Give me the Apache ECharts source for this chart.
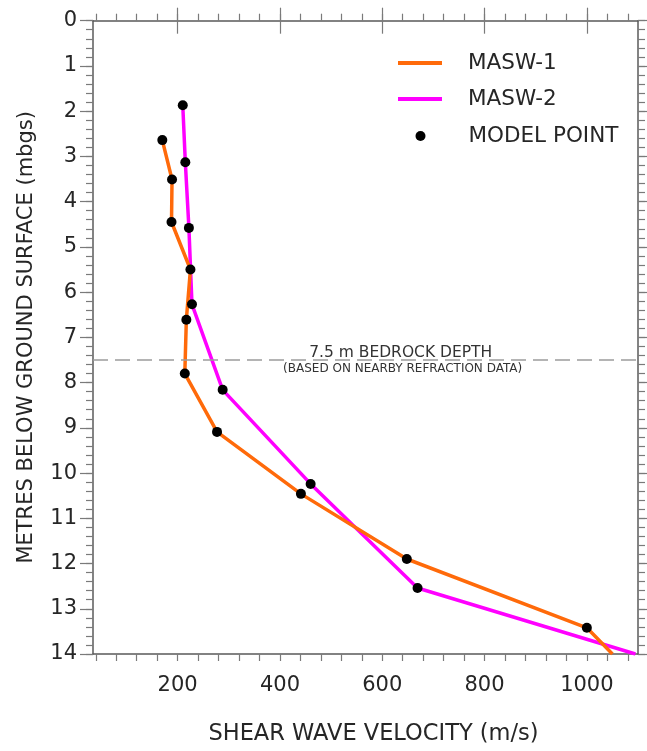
<!DOCTYPE html>
<html>
<head>
<meta charset="utf-8">
<script src="https://cdn.jsdelivr.net/npm/echarts@6/dist/echarts.min.js"></script>
<style>
  html, body { margin: 0; padding: 0; background: #ffffff; }
  #chart { width: 647px; height: 751px; }
</style>
</head>
<body>
<div id="chart"></div>
<script>
// Shear wave velocity profiles (m/s) against depth (metres below ground surface)
const masw1Velocity = [170, 189, 188, 225, 217, 214, 277, 441, 648, 1000, 1050];
const masw1Depth    = [2.64, 3.51, 4.45, 5.50, 6.61, 7.80, 9.09, 10.46, 11.90, 13.42, 14.0];
const masw2Velocity = [210, 215, 222, 228, 288, 460, 669, 1095];
const masw2Depth    = [1.87, 3.13, 4.58, 6.27, 8.16, 10.24, 12.54, 14.0];

// Velocity and depth axis labels
const velocityLabels = [200, 400, 600, 800, 1000];
const depthLabels = [0, 1, 2, 3, 4, 5, 6, 7, 8, 9, 10, 11, 12, 13, 14];

const bedrockDepth = 7.5;
const noteTitle = '7.5 m BEDROCK DEPTH';
const noteSubtitle = '(BASED ON NEARBY REFRACTION DATA)';
const noteVelocity = 636;

const X_MIN = 34.5, X_MAX = 1100, Y_MIN = 0, Y_MAX = 14;
const FONT = '"DejaVu Sans", sans-serif';
const TEXT = '#262626';
const AXIS = '#5a5a5a';
const TICK = '#7a7a7a';

// minor ticks: every 40 m/s and every 0.2 m
const velocityMinor = [];
for (let v = 40; v <= 1080; v += 40) velocityMinor.push(v);
const depthMinor = [];
for (let k = 0; k <= 70; k++) depthMinor.push(Math.round(k * 2) / 10);

const pairs = (xs, ys) => xs.map((x, i) => [x, ys[i]]);
// the profile's last vertex is where it leaves the plot; the others are model points
const modelPoints = pairs(masw1Velocity, masw1Depth).slice(0, -1)
  .concat(pairs(masw2Velocity, masw2Depth).slice(0, -1));

function xAxisDef(position, ticks, len, extra) {
  return Object.assign({
    type: 'value', position, min: X_MIN, max: X_MAX,
    axisLine: { show: true, onZero: false, lineStyle: { color: AXIS, width: 1.5 } },
    axisTick: { show: true, inside: false, customValues: ticks, length: len, lineStyle: { color: TICK, width: 1.2 } },
    axisLabel: { show: false },
    splitLine: { show: false }
  }, extra || {});
}
function yAxisDef(position, ticks, len, extra) {
  return Object.assign({
    type: 'value', position, min: Y_MIN, max: Y_MAX, inverse: true,
    axisLine: { show: true, onZero: false, lineStyle: { color: AXIS, width: 1.5 } },
    axisTick: { show: true, inside: false, customValues: ticks, length: len, lineStyle: { color: TICK, width: 1.2 } },
    axisLabel: { show: false },
    splitLine: { show: false }
  }, extra || {});
}

const chart = echarts.init(document.getElementById('chart'), null, { renderer: 'canvas' });

const legendText = { fontFamily: FONT, fontSize: 21.5, color: TEXT, padding: [0, 0, 0, 21], lineHeight: 24 };
const legendBase = { padding: 0, itemWidth: 44, selectedMode: false, textStyle: legendText };

chart.setOption({
  animation: false,
  backgroundColor: '#ffffff',
  textStyle: { fontFamily: FONT },
  grid: { left: 93, right: 9, top: 20.7, bottom: 96, containLabel: false },
  xAxis: [
    xAxisDef('bottom', velocityMinor, 7, {
      name: 'SHEAR WAVE VELOCITY (m/s)',
      nameLocation: 'middle', nameGap: 69,
      nameTextStyle: { fontFamily: FONT, fontSize: 22.5, color: TEXT, padding: [0, 0, 0, 16] },
      axisLabel: { show: true, customValues: velocityLabels, formatter: v => String(v),
        fontFamily: FONT, fontSize: 21, color: TEXT, margin: 21 }
    }),
    xAxisDef('bottom', velocityLabels, 13, { axisLine: { show: false } }),
    xAxisDef('top', velocityMinor, 7),
    xAxisDef('top', velocityLabels, 13, { axisLine: { show: false } })
  ],
  yAxis: [
    yAxisDef('left', depthMinor, 7, {
      name: 'METRES BELOW GROUND SURFACE (mbgs)',
      nameLocation: 'middle', nameGap: 56, nameRotate: 90,
      nameTextStyle: { fontFamily: FONT, fontSize: 21, color: TEXT },
      axisLabel: { show: true, customValues: depthLabels, formatter: v => String(v),
        fontFamily: FONT, fontSize: 21, color: TEXT, margin: 16 }
    }),
    yAxisDef('left', depthLabels, 13, { axisLine: { show: false } }),
    yAxisDef('right', depthMinor, 7),
    yAxisDef('right', depthLabels, 13, { axisLine: { show: false } })
  ],
  legend: [
    Object.assign({ data: [{ name: 'MASW-1', icon: 'rect' }], left: 398, top: 51, itemHeight: 4 }, legendBase),
    Object.assign({ data: [{ name: 'MASW-2', icon: 'rect' }], left: 398, top: 87, itemHeight: 4 }, legendBase),
    Object.assign({ data: [{ name: 'MODEL POINT', icon: 'circle' }], left: 415.5, top: 124, itemHeight: 10 }, legendBase)
  ],
  series: [
    {
      name: 'MASW-1', type: 'line', xAxisIndex: 0, yAxisIndex: 0,
      data: pairs(masw1Velocity, masw1Depth), showSymbol: false, symbol: 'none',
      itemStyle: { color: '#ff6a0a' }, lineStyle: { color: '#ff6a0a', width: 3.5 },
      z: 3,
      markLine: {
        silent: true, symbol: 'none', animation: false,
        label: { show: false },
        lineStyle: { type: [15, 7], color: '#9c9c9c', width: 1.5 },
        data: [{ yAxis: bedrockDepth }]
      }
    },
    {
      name: 'MASW-2', type: 'line', xAxisIndex: 0, yAxisIndex: 0,
      data: pairs(masw2Velocity, masw2Depth), showSymbol: false, symbol: 'none',
      itemStyle: { color: '#ff00ff' }, lineStyle: { color: '#ff00ff', width: 3.5 },
      z: 2
    },
    {
      name: 'MODEL POINT', type: 'scatter', xAxisIndex: 0, yAxisIndex: 0,
      data: modelPoints, symbol: 'circle', symbolSize: 10,
      itemStyle: { color: '#000000', opacity: 1 }, z: 5
    }
  ]
});

// bedrock note, anchored to the dashed line in data coordinates
const anchor = chart.convertToPixel({ xAxisIndex: 0, yAxisIndex: 0 }, [noteVelocity, bedrockDepth]);
chart.setOption({
  graphic: [
    { type: 'text', x: anchor[0], y: anchor[1] + 1, silent: true,
      style: { text: noteTitle, fontFamily: FONT, fontSize: 15.5, fill: '#333333', align: 'center', verticalAlign: 'bottom' } },
    { type: 'text', x: anchor[0] + 2, y: anchor[1] + 8.5, silent: true,
      style: { text: noteSubtitle, fontFamily: FONT, fontSize: 12, fill: '#333333', align: 'center', verticalAlign: 'middle' } }
  ]
});
</script>
</body>
</html>
